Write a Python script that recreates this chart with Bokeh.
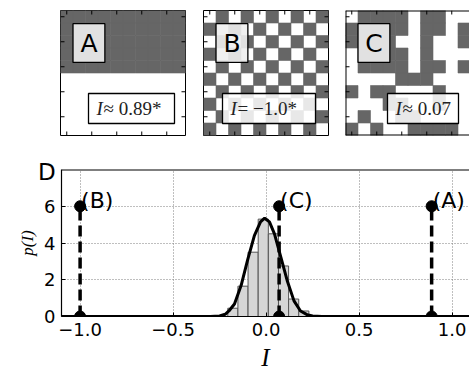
from bokeh.plotting import figure
from bokeh.models import Range1d, FixedTicker, Span, LinearAxis
from bokeh.layouts import column, row
from bokeh.embed import file_html
from bokeh.resources import INLINE
from bokeh.core.properties import value

# ---------------- data ----------------
grid_A = [
    "1111111111",
    "1111111111",
    "1111111111",
    "1111111111",
    "1111111111",
    "0000000000",
    "0000000000",
    "0000000000",
    "0000000000",
    "0000000000",
]
grid_B = [
    "0101010101",
    "1010101010",
    "0101010101",
    "1010101010",
    "0101010101",
    "1010101010",
    "0101010101",
    "1010101010",
    "0101010101",
    "1010101010",
]
grid_C = [
    "0111101100",
    "1111101101",
    "1111001001",
    "0111101000",
    "0111101101",
    "0000111000",
    "1011000100",
    "0001100100",
    "0100110000",
    "1010011110",
]
panel_letters = ["A", "B", "C"]
moran_sym = ["≈ 0.89*", "= −1.0*", "≈ 0.07"]

marks_I = [0.89, -1.0, 0.07]          # I values of A, B, C
marks_p = [6, 6, 6]
mark_labels = ["(A)", "(B)", "(C)"]

hist_edges = [-0.206, -0.1515, -0.097, -0.0425, 0.012, 0.0665, 0.121, 0.1755, 0.23]
hist_heights = [0.45, 1.65, 3.5, 5.3, 4.5, 2.75, 0.95, 0.3]

curve_x = [-1.1, -0.30, -0.25, -0.22, -0.20, -0.17, -0.134, -0.10, -0.063, -0.03,
           -0.008, 0.018, 0.045, 0.08, 0.115, 0.15, 0.185, 0.22, 0.25, 0.30, 1.1]
curve_y = [0, 0, 0.03, 0.12, 0.3, 0.68, 1.7, 3.05, 4.4, 5.15,
           5.35, 5.15, 4.5, 3.2, 1.9, 0.85, 0.3, 0.1, 0.03, 0, 0]

x_ticks = [-1.0, -0.5, 0.0, 0.5, 1.0]
x_tick_labels = ["−1.0", "−0.5", "0.0", "0.5", "1.0"]
y_ticks = [0, 2, 4, 6]
y_tick_labels = ["0", "2", "4", "6"]
img_ticks = [0, 2, 4, 6, 8]
panel_D_letter = "D"

DARK = "#666666"
TICK = 0.32   # 4 px in cell units
X0 = -1.1
NBSP = "\u00a0"


def image_fig(grid, letter, rest, vbox, left, right, frame_w, x_end, full_frame):
    p = figure(frame_width=frame_w, frame_height=125,
               x_range=Range1d(-0.5, x_end), y_range=Range1d(9.5, -0.5),
               output_backend="svg", toolbar_location=None,
               x_axis_type=None, y_axis_type=None,
               min_border_left=left, min_border_right=right,
               min_border_top=10, min_border_bottom=5,
               outline_line_color="black" if full_frame else None,
               outline_line_width=1,
               background_fill_color="white", border_fill_color="white")
    xs, ys = [], []
    for r, line in enumerate(grid):
        for c, ch in enumerate(line):
            if ch == "1":
                xs.append(c)
                ys.append(r)
    p.rect(xs, ys, width=1, height=1, fill_color=DARK, line_color=DARK, line_width=0.6)
    # inward ticks on the image frame
    n = len(img_ticks)
    tx0 = img_ticks + img_ticks + [-0.5] * n
    ty0 = [-0.5] * n + [9.5] * n + img_ticks
    tx1 = img_ticks + img_ticks + [-0.5 + TICK] * n
    ty1 = [-0.5 + TICK] * n + [9.5 - TICK] * n + img_ticks
    if full_frame:
        tx0 += [9.5] * n
        ty0 += img_ticks
        tx1 += [9.5 - TICK] * n
        ty1 += img_ticks
    p.segment(x0=tx0, y0=ty0, x1=tx1, y1=ty1, line_color="black", line_width=1)
    if not full_frame:
        p.segment(x0=[-0.5, -0.5, -0.5], y0=[-0.5, -0.5, 9.5], x1=[-0.5, 12, 12],
                  y1=[9.5, -0.5, 9.5], line_color="black", line_width=2)
    # letter box
    p.quad(left=[0.5], right=[3.05], top=[0.55], bottom=[3.65], fill_color="#eeeeee",
           fill_alpha=0.9, line_color="black", line_width=1.3)
    p.text(x=[1.78], y=[2.1], text=[letter], text_align="center", text_baseline="middle",
           text_font=value("DejaVu Sans"), text_font_size="25px", text_color="black")
    # value box
    p.quad(left=[vbox[0]], right=[vbox[1]], top=[6.14], bottom=[8.54], fill_color="white",
           fill_alpha=0.85, line_color="black", line_width=1.3)
    p.text(x=[vbox[0]], y=[7.34], text=["I"], x_offset=8, text_align="left",
           text_baseline="middle", text_font=value("Liberation Serif"), text_font_style="italic",
           text_font_size="19px", text_color="#222222")
    p.text(x=[vbox[0]], y=[7.34], text=[rest], x_offset=15, text_align="left",
           text_baseline="middle", text_font=value("Liberation Serif"),
           text_font_size="19px", text_color="#222222")
    return p


pA = image_fig(grid_A, panel_letters[0], moran_sym[0], (1.74, 8.62), 60, 8, 125, 9.5, True)
pB = image_fig(grid_B, panel_letters[1], moran_sym[1], (1.02, 8.46), 10, 8, 125, 9.5, True)
pC = image_fig(grid_C, panel_letters[2], moran_sym[2], (2.86, 8.54), 9, 0, 124, 9.42, False)

# ---------------- panel D ----------------
p = figure(frame_width=408, frame_height=147,
           x_range=Range1d(X0, X0 + 408 / 186), y_range=Range1d(0, 8),
           min_border_left=61, min_border_right=0, min_border_top=29, min_border_bottom=53,
           output_backend="svg", toolbar_location=None, outline_line_color=None,
           background_fill_color="white", border_fill_color="white")

p.xaxis.ticker = FixedTicker(ticks=x_ticks)
p.xaxis.major_label_overrides = {t: l for t, l in zip(x_ticks, x_tick_labels)}
p.yaxis.ticker = FixedTicker(ticks=y_ticks)
p.yaxis.major_label_overrides = {t: l for t, l in zip(y_ticks, y_tick_labels)}
for ax in (p.xaxis[0], p.yaxis[0]):
    ax.major_tick_in = 4
    ax.major_tick_out = 0
    ax.minor_tick_in = 0
    ax.minor_tick_out = 0
    ax.major_label_text_font = "DejaVu Sans"
    ax.major_label_text_font_size = "18px"
    ax.major_label_text_color = "black"
    ax.axis_line_color = "black"
    ax.axis_line_width = 1.2
    ax.major_tick_line_color = "black"
    ax.major_label_standoff = 6
    ax.axis_label_text_font = "Liberation Serif"
    ax.axis_label_text_font_style = "italic"
    ax.axis_label_text_color = "black"
p.xaxis.axis_label = "I"
p.xaxis.axis_label_text_font_size = "25px"
p.xaxis.axis_label_standoff = 5
p.yaxis.axis_label = "p(I)"
p.yaxis.axis_label_text_font_size = "17px"
p.yaxis.axis_label_standoff = 4

# panel letter "D": the single label of a top axis at the frame's left edge
letter_ax = LinearAxis(ticker=FixedTicker(ticks=[X0 + 1e-6]),
                       major_label_overrides={X0 + 1e-6: panel_D_letter + NBSP * 4},
                       major_tick_in=0, major_tick_out=0, minor_tick_in=0, minor_tick_out=0,
                       major_tick_line_color=None, axis_line_color=None,
                       major_label_standoff=-15,
                       major_label_text_font="DejaVu Sans", major_label_text_font_size="23px",
                       major_label_text_color="black")
p.add_layout(letter_ax, "above")

p.add_layout(Span(location=8, dimension="width", line_color="black", line_width=2))

p.xgrid.ticker = FixedTicker(ticks=x_ticks)
p.ygrid.ticker = FixedTicker(ticks=[0, 2, 4, 6, 8])
p.grid.grid_line_color = "#7f7f7f"
p.grid.grid_line_dash = "1 2"
p.grid.grid_line_width = 1

p.quad(left=hist_edges[:-1], right=hist_edges[1:], bottom=0, top=hist_heights,
       fill_color="#d6d6d6", line_color="#555555", line_width=1)
p.line(curve_x, curve_y, line_color="black", line_width=3)

p.segment(x0=marks_I, y0=[0] * 3, x1=marks_I, y1=marks_p, line_color="black",
          line_width=3.5, line_dash="11 5")
p.scatter(marks_I + marks_I, marks_p + [0] * 3, size=11, color="black")
p.text(x=marks_I, y=marks_p, text=mark_labels, x_offset=1, y_offset=-6,
       text_align="left", text_baseline="alphabetic", text_font=value("DejaVu Sans"),
       text_font_size="22px", text_color="black")

layout = column(row(pA, pB, pC), p)
open("out.html", "w").write(file_html(layout, INLINE))
